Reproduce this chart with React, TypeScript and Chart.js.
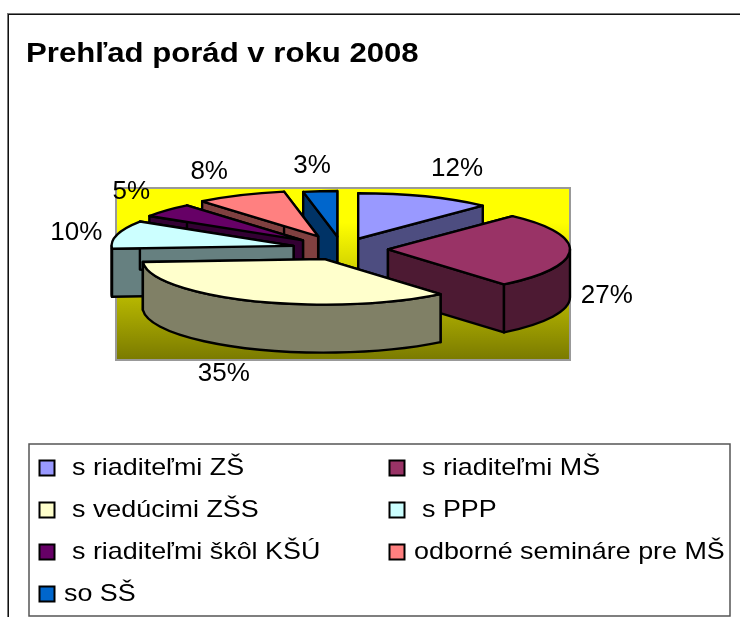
import React, { useEffect, useRef } from "react";
import { Chart, registerables } from "chart.js";

Chart.register(...registerables);

const TITLE = "Prehľad porád v roku 2008";
const categories = [
  "s riaditeľmi ZŠ",
  "s riaditeľmi MŠ",
  "s vedúcimi ZŠS",
  "s PPP",
  "s riaditeľmi škôl KŠÚ",
  "odborné semináre pre MŠ",
  "so SŠ",
];
const values = [12, 27, 35, 10, 5, 8, 3];
const topColors = ["#9999FF", "#993366", "#FFFFCC", "#CCFFFF", "#660066", "#FF8080", "#0066CC"];
const sideColors = ["#4D4D80", "#4D1A33", "#808066", "#668080", "#330033", "#804040", "#003366"];
const explosions = [44, 46, 44, 50, 52, 56, 50];
const labelNudges = [
  [17.5, -2],
  [0, -4],
  [-13, 0],
  [-9, 5],
  [-12, -1.5],
  [-20, -1],
  [-5, 0],
];

const FONT = '"Liberation Sans", Arial, sans-serif';
const FLAT = 0.25;
const RADIUS = 182;
const DEPTH = 48;
const TITLE_STRETCH = 1.153;
const LEGEND_STRETCH = 1.12;

const pie3d = {
  id: "pie3d",
  beforeDraw(chart: any) {
    const ctx = chart.ctx;
    const { width, height } = chart;
    ctx.save();
    ctx.fillStyle = "#fff";
    ctx.fillRect(0, 0, width, height);
    // outer chart frame
    ctx.fillStyle = "#777";
    ctx.fillRect(7, 13, width - 7, 1);
    ctx.fillRect(7, 13, 1, height - 13);
    ctx.fillStyle = "#111";
    ctx.fillRect(8, 14, width - 8, 1);
    ctx.fillRect(8, 14, 1, height - 14);
    ctx.restore();

    // the reference's title is set wide: stretch the library's title block
    const block = chart.titleBlock;
    if (block && !block.__wide) {
      const draw = block.draw;
      block.__wide = true;
      block.draw = function (...args: any[]) {
        const left = this.left;
        ctx.save();
        ctx.translate(left, 0);
        ctx.scale(TITLE_STRETCH, 1);
        ctx.translate(-left, 0);
        draw.apply(this, args);
        ctx.restore();
      };
    }
  },
  beforeDatasetsDraw(chart: any) {
    const ctx = chart.ctx;
    const arcs = chart.getDatasetMeta(0).data;

    // plot wall
    ctx.save();
    const grad = ctx.createLinearGradient(0, 188, 0, 360);
    grad.addColorStop(0, "#FFFF00");
    grad.addColorStop(0.2, "#FFFF00");
    grad.addColorStop(1, "#7A7A00");
    ctx.fillStyle = grad;
    ctx.fillRect(116, 188, 454, 172);
    ctx.strokeStyle = "#999";
    ctx.lineWidth = 2;
    ctx.strokeRect(116, 188, 454, 172);
    ctx.restore();

    const order = arcs
      .map((a: any, i: number) => ({ a, i, mid: (a.startAngle + a.endAngle) / 2 }))
      .sort((p: any, q: any) => Math.sin(p.mid) - Math.sin(q.mid));

    ctx.save();
    ctx.lineJoin = "round";
    ctx.lineWidth = 2.4;
    ctx.strokeStyle = "#000";

    for (const { a, i, mid } of order) {
      const cx = a.x + Math.cos(mid) * explosions[i];
      const cy = a.y + Math.sin(mid) * explosions[i] * FLAT;
      const R = a.outerRadius;
      const Ry = R * FLAT;
      const pt = (ang: number) => [cx + R * Math.cos(ang), cy + Ry * Math.sin(ang)];

      ctx.fillStyle = sideColors[i];
      // radial faces
      for (const ang of [a.startAngle, a.endAngle]) {
        const [px, py] = pt(ang);
        ctx.beginPath();
        ctx.moveTo(cx, cy);
        ctx.lineTo(px, py);
        ctx.lineTo(px, py + DEPTH);
        ctx.lineTo(cx, cy + DEPTH);
        ctx.closePath();
        ctx.fill();
        ctx.stroke();
      }
      // outer rim: the part of the arc that faces the viewer
      for (const k of [0, 2]) {
        const lo = Math.max(a.startAngle, k * Math.PI);
        const hi = Math.min(a.endAngle, (k + 1) * Math.PI);
        if (hi <= lo) continue;
        ctx.beginPath();
        ctx.ellipse(cx, cy, R, Ry, 0, lo, hi);
        ctx.ellipse(cx, cy + DEPTH, R, Ry, 0, hi, lo, true);
        ctx.closePath();
        ctx.fill();
        ctx.stroke();
      }
      // top face, painted by the library's own arc element
      ctx.save();
      ctx.translate(cx, cy);
      ctx.scale(1, FLAT);
      ctx.translate(-a.x, -a.y);
      a.draw(ctx);
      ctx.restore();
      ctx.beginPath();
      ctx.moveTo(cx, cy);
      ctx.ellipse(cx, cy, R, Ry, 0, a.startAngle, a.endAngle);
      ctx.closePath();
      ctx.stroke();
    }
    ctx.restore();

    // percent labels
    const total = values.reduce((s, v) => s + v, 0);
    ctx.save();
    ctx.fillStyle = "#000";
    ctx.font = `26px ${FONT}`;
    ctx.textAlign = "center";
    ctx.textBaseline = "middle";
    arcs.forEach((a: any, i: number) => {
      const mid = (a.startAngle + a.endAngle) / 2;
      const sn = Math.sin(mid);
      const x = a.x + 265 * Math.cos(mid) + labelNudges[i][0];
      const y = a.y + 84 * sn + (sn > 0 ? DEPTH : 0) + labelNudges[i][1];
      ctx.fillText(`${Math.round((values[i] / total) * 100)}%`, x, y);
    });
    ctx.restore();

    // legend
    ctx.save();
    ctx.fillStyle = "#fff";
    ctx.fillRect(29, 444, 701, 172);
    ctx.strokeStyle = "#555";
    ctx.lineWidth = 1.5;
    ctx.strokeRect(29, 444, 701, 172);
    ctx.font = `24px ${FONT}`;
    ctx.textBaseline = "middle";
    ctx.textAlign = "left";
    categories.forEach((label, i) => {
      const col = i % 2;
      const row = Math.floor(i / 2);
      const bx = 39.5 + col * 350;
      const by = 460.5 + row * 42;
      ctx.fillStyle = topColors[i];
      ctx.fillRect(bx, by, 15, 15);
      ctx.strokeStyle = "#000";
      ctx.lineWidth = 2;
      ctx.strokeRect(bx, by, 15, 15);
      ctx.fillStyle = "#000";
      const tx = bx + 24.5 + (label.startsWith("s ") ? 8 : 0);
      ctx.save();
      ctx.translate(tx, by + 8);
      ctx.scale(LEGEND_STRETCH, 1);
      ctx.fillText(label, 0, 0);
      ctx.restore();
    });
    ctx.restore();
    return false;
  },
};

export default function App() {
  const ref = useRef<HTMLCanvasElement>(null);
  useEffect(() => {
    document.body.style.margin = "0";
    const chart = new Chart(ref.current as HTMLCanvasElement, {
      type: "pie",
      data: {
        labels: categories,
        datasets: [
          {
            data: values,
            backgroundColor: topColors,
            borderWidth: 0,
            offset: 0,
          },
        ],
      },
      options: {
        responsive: false,
        animation: false,
        devicePixelRatio: 1,
        radius: RADIUS,
        layout: { padding: { left: 26, right: 82, top: 0, bottom: 189.4 } },
        plugins: {
          legend: { display: false },
          tooltip: { enabled: false },
          title: {
            display: true,
            text: TITLE,
            align: "start",
            color: "#000",
            font: { family: FONT, size: 27, weight: "bold", lineHeight: 1.2 },
            padding: { top: 38, bottom: 0 },
          },
        },
      },
      plugins: [pie3d],
    } as any);
    return () => chart.destroy();
  }, []);
  return (
    <canvas
      ref={ref}
      width={740}
      height={617}
      style={{ display: "block", position: "absolute", left: 0, top: 0 }}
    />
  );
}
